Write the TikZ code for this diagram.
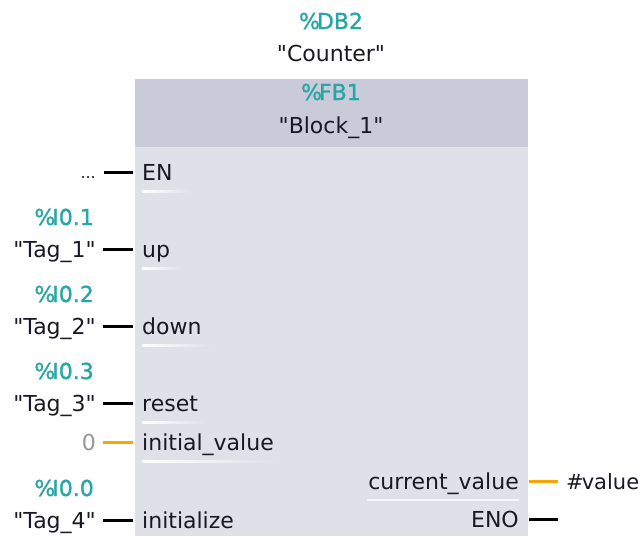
\documentclass[tikz,border=0pt]{standalone}
\usepackage{fontspec}
\setmainfont{DejaVu Sans}
\newfontfamily\addrfont{DejaVu Sans}[FakeBold=1.3]
\newcommand{\sq}{\XeTeXglyph\XeTeXcharglyph"22\relax}
\definecolor{hdr}{RGB}{201,203,216}
\definecolor{bodyc}{RGB}{223,224,232}
\definecolor{tealc}{RGB}{38,166,166}
\definecolor{ink}{RGB}{25,25,35}
\definecolor{orng}{RGB}{250,165,0}
\definecolor{gry}{RGB}{150,150,150}
\begin{document}
\begin{tikzpicture}[x=1pt,y=-1pt,
  every node/.style={inner sep=0pt, font=\fontsize{22}{26}\selectfont, text=ink},
  addrstyle/.style={text=tealc, font=\fontsize{22}{26}\addrfont},
  addr/.style={addrstyle, anchor=base east},
  tagn/.style={anchor=base east},
  inlbl/.style={anchor=base west},
  outlbl/.style={anchor=base east},
  wire/.style={line width=3pt, black},
  owire/.style={line width=3pt, orng},
  uline/.style={left color=white, right color=bodyc, draw=none}]
\useasboundingbox (0,0) rectangle (643,536);
% block
\fill[bodyc] (134,78) rectangle (528,536);
\fill[hdr] (134,78) rectangle (528,147);
\draw[white, line width=1.5pt] (134,536) -- (134,78) -- (528,78);
% titles
\node[addrstyle, anchor=base] (db) at (331,29) {\%\kern-3pt DB2};
\node[anchor=base] (inst) at (331,61) {\sq Counter\sq};
\node[addrstyle, anchor=base] (fb) at (331,100) {\%\kern-3pt FB1};
\node[anchor=base] (blk) at (331,133) {\sq Block\_1\sq};
% EN
\node[anchor=base east, font=\fontsize{16}{18}\selectfont] (dots) at (96,178) {...};
\coordinate (wEN) at (104,172); \coordinate (pEN) at (133,172);
\draw[wire] (wEN) -- (pEN);
\node[inlbl] (en) at (142,180.5) {EN};
\shade[uline] (142,190) rectangle (192,192);
% up
\node[addr] (a1) at (94,225) {\%\kern-3pt I0.1};
\node[tagn] (t1) at (96,257) {\sq Tag\_1\sq};
\coordinate (w1) at (103,249); \coordinate (p1) at (133,249);
\draw[wire] (w1) -- (p1);
\node[inlbl] (up) at (142,257.5) {up};
\shade[uline] (142,267) rectangle (182,269);
% down
\node[addr] (a2) at (94,302) {\%\kern-3pt I0.2};
\node[tagn] (t2) at (96,334) {\sq Tag\_2\sq};
\coordinate (w2) at (103,326); \coordinate (p2) at (133,326);
\draw[wire] (w2) -- (p2);
\node[inlbl] (down) at (142,334.5) {down};
\shade[uline] (142,344) rectangle (212,346);
% reset
\node[addr] (a3) at (94,379) {\%\kern-3pt I0.3};
\node[tagn] (t3) at (96,411) {\sq Tag\_3\sq};
\coordinate (w3) at (103,403); \coordinate (p3) at (133,403);
\draw[wire] (w3) -- (p3);
\node[inlbl] (reset) at (142,411.5) {reset};
\shade[uline] (142,421) rectangle (207,423);
% initial_value
\node[tagn, text=gry] (zero) at (96,450) {0};
\coordinate (w4) at (103,442); \coordinate (p4) at (133,442);
\draw[owire] (w4) -- (p4);
\node[inlbl] (iv) at (142,450.5) {initial\_value};
\shade[uline] (142,460) rectangle (280,462);
% initialize
\node[addr] (a5) at (94,496) {\%\kern-3pt I0.0};
\node[tagn] (t5) at (96,528) {\sq Tag\_4\sq};
\coordinate (w5) at (103,520); \coordinate (p5) at (133,520);
\draw[wire] (w5) -- (p5);
\node[inlbl] (init) at (142,528.5) {initialize};
% outputs
\node[outlbl] (cv) at (519,489.5) {current\_value};
\fill[white!70!bodyc] (367,499) rectangle (519,501);
\coordinate (pcv) at (529,481); \coordinate (wcv) at (558,481);
\draw[owire] (pcv) -- (wcv);
\node[anchor=base west, font=\fontsize{21}{25}\selectfont] (val) at (566,489.5) {\#\kern-2pt value};
\node[outlbl] (eno) at (519,527.5) {ENO};
\coordinate (peno) at (529,519); \coordinate (weno) at (558,519);
\draw[wire] (peno) -- (weno);
\end{tikzpicture}
\end{document}
